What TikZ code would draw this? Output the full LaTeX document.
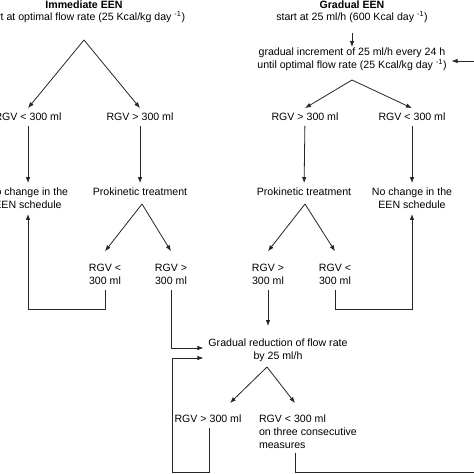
\documentclass[tikz,border=0pt]{standalone}
\usepackage{fontspec}
\setmainfont{Liberation Sans}
\usetikzlibrary{arrows.meta}
\begin{document}
\begin{tikzpicture}[x=1pt,y=-1pt,
  txt/.style={font=\fontsize{10.6}{13}\selectfont, inner sep=0pt, outer sep=5pt, align=center},
  ttl/.style={txt, font=\fontsize{10.6}{13}\selectfont\bfseries},
  arr/.style={draw=black!85, line width=0.8pt, -{Latex[length=6pt,width=4.5pt]}},
  ln/.style={draw=black!85, line width=0.8pt}]
\clip (0,0) rectangle (474,474);
\fill[white] (0,0) rectangle (474,474);

% titles
\node[ttl] (immT) at (84,5) {Immediate EEN};
\node[txt] (immS) at (84,17) {start at optimal flow rate (25 Kcal/kg day \textsuperscript{-1})};
\node[ttl] (gradT) at (352,5) {Gradual EEN};
\node[txt] (gradS) at (352,17) {start at 25 ml/h (600 Kcal day \textsuperscript{-1})};
\node[txt] (incr) at (352,59.5) {gradual increment of 25 ml/h every 24 h\\until optimal flow rate (25 Kcal/kg day \textsuperscript{-1})};

% first level
\node[txt] (L1) at (28,117) {RGV < 300 ml};
\node[txt] (L2) at (140,117) {RGV > 300 ml};
\node[txt] (R1) at (305,117) {RGV > 300 ml};
\node[txt] (R2) at (412,117) {RGV < 300 ml};

% second level
\node[txt] (Lnc) at (28,198.5) {No change in the\\EEN schedule};
\node[txt] (Lpk) at (140,192) {Prokinetic treatment};
\node[txt] (Rpk) at (304,192) {Prokinetic treatment};
\node[txt] (Rnc) at (412,198.5) {No change in the\\EEN schedule};

% third level
\node[txt] (LL) at (105,274.5) {RGV <\\300 ml};
\node[txt] (LR) at (171,274.5) {RGV >\\300 ml};
\node[txt] (RL) at (268,274.5) {RGV >\\300 ml};
\node[txt] (RR) at (335,274.5) {RGV <\\300 ml};

% reduction
\node[txt] (red) at (278,350.5) {Gradual reduction of flow rate\\by 25 ml/h};
\node[txt] (BL) at (208,419) {RGV > 300 ml};
\node[txt, align=left, anchor=west] (BR) at (254,432) {RGV < 300 ml\\on three consecutive\\measures};

% helper coordinates
\coordinate (a1) at (84,40);
\coordinate (a2) at (352,80);
\coordinate (p1) at (142,204);
\coordinate (p2) at (305,204);
\coordinate (q) at (267,367);
\coordinate (edgeR) at (474,61);
\coordinate (lb) at (28,309);
\coordinate (rb) at (412,309);
\coordinate (bl) at (172,472);
\coordinate (br) at (474,472);
\coordinate (brs) at (295,453);
\coordinate (t1) at (230,403);
\coordinate (t2) at (295,403);
\coordinate (redN) at ([yshift=8]red.north);

% connectors
\draw[arr] (a1) -- (L1.north);
\draw[arr] (a1) -- (L2.north);
\draw[arr] ([yshift=-5]gradS.south) -- ([yshift=-4]incr.north);
\draw[arr] (edgeR) -- (edgeR -| incr.east);
\draw[arr] (a2) -- (R1.north);
\draw[arr] (a2) -- (R2.north);

\draw[arr] (L1) -- (Lnc);
\draw[arr] (L2) -- (Lpk);
\draw[arr] (R1) -- (Rpk);
\draw[arr] (R2) -- (Rnc);

\draw[arr] (p1) -- ([yshift=8]LL.north);
\draw[arr] (p1) -- ([yshift=8]LR.north);
\draw[arr] (p2) -- ([yshift=8]RL.north);
\draw[arr] (p2) -- ([yshift=8]RR.north);

\draw[arr] (LL.south) |- (lb) -- (Lnc.south);
\draw[arr] (RR.south) |- (rb) -- (Rnc.south);

\draw[arr] (LR.south) |- ([yshift=2.5]red.west);
\draw[arr] ([xshift=1]BL.south) |- (bl) |- ([yshift=-7.5]red.west);
\draw[arr] (RL.south) -- (RL.south |- redN);

\draw[arr] (q) -- (t1);
\draw[arr] (q) -- (t2);
\draw[ln] (brs) |- (br);
\end{tikzpicture}
\end{document}
